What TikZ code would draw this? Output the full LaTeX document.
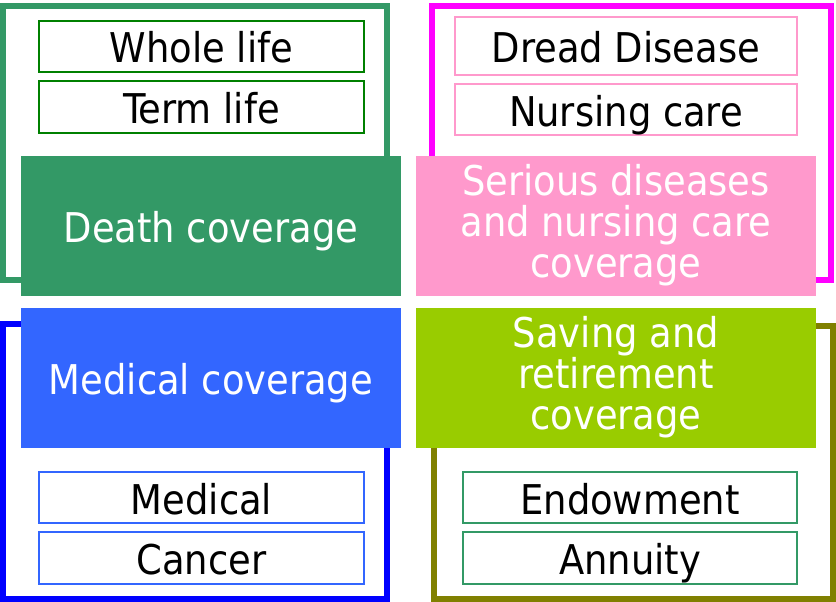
\documentclass[tikz,border=0pt]{standalone}
\usepackage{fontspec}
\setmainfont{DejaVu Sans Condensed}
\definecolor{deathgreen}{HTML}{339966}
\definecolor{itemgreen}{HTML}{008000}
\definecolor{magentaframe}{HTML}{FF00FF}
\definecolor{pinkfill}{HTML}{FF99CC}
\definecolor{blueframe}{HTML}{0000FF}
\definecolor{bluefill}{HTML}{3366FF}
\definecolor{limefill}{HTML}{99CC00}
\definecolor{oliveframe}{HTML}{808000}
\begin{document}
\begin{tikzpicture}[x=1pt,y=-1pt,
  frame/.style={draw=#1, line width=6pt, inner sep=0pt, outer sep=0pt},
  head/.style={fill=#1, draw=none, text=white, align=center, inner sep=0pt,
    minimum width=380pt, minimum height=140pt,
    font=\fontsize{41}{41}\selectfont},
  oneline/.style={text height=36pt, text depth=3pt},
  % the baseline of a multi-line node is its last line
  threeline/.style={text height=108pt, text depth=5pt},
  item/.style={draw=#1, line width=2pt, fill=white, inner sep=0pt,
    text height=36pt, text depth=3pt,
    font=\fontsize{41}{41}\selectfont}]
\useasboundingbox (0,0) rectangle (836,602);

% outer frames of the four groups
\node[frame=deathgreen, minimum width=384pt, minimum height=274pt] (fdeath) at (195,143) {};
\node[frame=magentaframe, minimum width=399pt, minimum height=274pt] (fserious) at (631.5,143) {};
\node[frame=blueframe, minimum width=384pt, minimum height=275pt] (fmedical) at (195,461.5) {};
\node[frame=oliveframe, minimum width=399pt, minimum height=273pt] (fsaving) at (633.5,462.5) {};

% coloured headings
\node[head=deathgreen, oneline] (death) at (211,226) {Death coverage};
\node[head=pinkfill, threeline, minimum width=400pt] (serious) at (616,226)
  {Serious diseases\\and nursing care\\coverage};
\node[head=bluefill, oneline] (medical) at (211,378) {Medical coverage};
\node[head=limefill, threeline, minimum width=400pt] (saving) at (616,378)
  {Saving and\\retirement\\coverage};

% product boxes
\node[item=itemgreen, minimum width=325pt, minimum height=51pt] (whole) at (201.5,46.5) {Whole life};
\node[item=itemgreen, minimum width=325pt, minimum height=52pt] (term) at (201.5,107) {Term life};
\node[item=pinkfill, minimum width=342pt, minimum height=58pt] (dread) at (626,46) {Dread Disease};
\node[item=pinkfill, minimum width=342pt, minimum height=51pt] (nursing) at (626,109.5) {Nursing care};
\node[item=bluefill, minimum width=325pt, minimum height=51pt] (med) at (201.5,497.5) {Medical};
\node[item=bluefill, minimum width=325pt, minimum height=52pt] (cancer) at (201.5,558) {Cancer};
\node[item=deathgreen, minimum width=334pt, minimum height=51pt] (endow) at (630,497.5) {Endowment};
\node[item=deathgreen, minimum width=334pt, minimum height=52pt] (annuity) at (630,558) {Annuity};
\end{tikzpicture}
\end{document}
